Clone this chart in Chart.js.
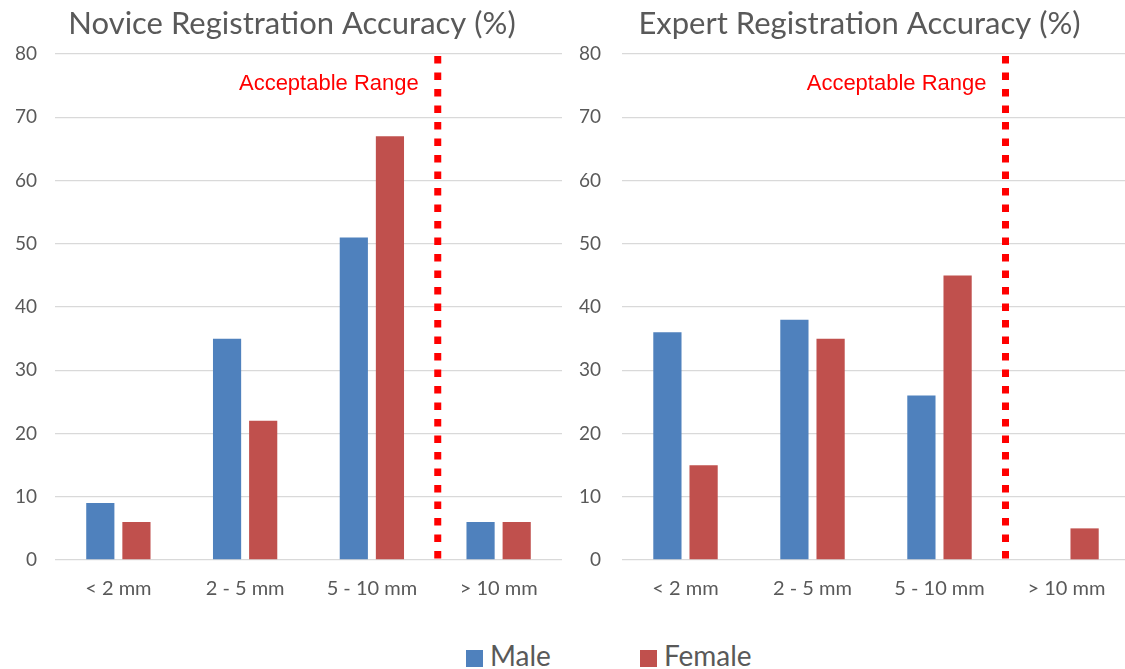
<!DOCTYPE html>
<html>
<head>
<meta charset="utf-8">
<script src="https://cdn.jsdelivr.net/npm/chart.js@4.4.1/dist/chart.umd.min.js"></script>
<style>
  body { margin: 0; background: #fff; width: 1125px; height: 669px; overflow: hidden; position: relative; }
  .box { position: absolute; top: 0; height: 620px; }
  #left { left: 0; width: 562px; }
  #right { left: 562px; width: 568px; }
  #legend { position: absolute; top: 637px; left: 466px; display: flex; gap: 89px;
            font-family: Lato, sans-serif; font-size: 28px; color: #595959; line-height: 36px; }
  #legend span.sw { display: inline-block; width: 17px; height: 17px; margin-right: 7px; vertical-align: -1px; }
</style>
</head>
<body>
<div class="box" id="left"><canvas id="novice"></canvas></div>
<div class="box" id="right"><canvas id="expert"></canvas></div>
<div id="legend"></div>
<script>
// categories and series
const categories = ["< 2 mm", "2 - 5 mm", "5 - 10 mm", "> 10 mm"];
const noviceMale = [9, 35, 51, 6];
const noviceFemale = [6, 22, 67, 6];
const expertMale = [36, 38, 26, 0];
const expertFemale = [15, 35, 45, 5];
const seriesNames = ["Male", "Female"];
const seriesColors = ["#4F81BD", "#C0504D"];
const markerLabel = "Acceptable Range";

const textColor = "#595959";

// red dotted line between 5-10 mm and > 10 mm, with its label
const rangeLine = {
    id: "rangeLine",
    afterDatasetsDraw(chart) {
        const { ctx, chartArea, scales } = chart;
        const x = (scales.x.getPixelForValue(2) + scales.x.getPixelForValue(3)) / 2 + 2.5;
        ctx.save();
        ctx.strokeStyle = "#FF0000";
        ctx.lineWidth = 7;
        ctx.setLineDash([7.5, 9]);
        ctx.beginPath();
        ctx.moveTo(x, chartArea.top + 2);
        ctx.lineTo(x, chartArea.bottom);
        ctx.stroke();
        ctx.setLineDash([]);
        ctx.fillStyle = "#FF0000";
        ctx.font = "22px 'Liberation Sans', Arial, sans-serif";
        ctx.textAlign = "right";
        ctx.textBaseline = "middle";
        ctx.fillText(markerLabel, x - 19, scales.y.getPixelForValue(75.3));
        ctx.restore();
    }
};

// chart title, sitting a little left of the plot centre like the original
const sideTitle = {
    id: "sideTitle",
    afterDraw(chart, args, opts) {
        const { ctx, chartArea } = chart;
        ctx.save();
        ctx.fillStyle = textColor;
        ctx.font = "31px Lato";
        ctx.textAlign = "center";
        ctx.textBaseline = "middle";
        ctx.fillText(opts.text, (chartArea.left + chartArea.right) / 2 - 16.5, 23.5);
        ctx.restore();
    }
};

function makeChart(id, title, male, female, yWidth, tickPad) {
    return new Chart(document.getElementById(id), {
        type: "bar",
        data: {
            labels: categories,
            datasets: [
                { label: seriesNames[0], data: male, backgroundColor: seriesColors[0] },
                { label: seriesNames[1], data: female, backgroundColor: seriesColors[1] }
            ]
        },
        options: {
            responsive: true,
            maintainAspectRatio: false,
            animation: false,
            categoryPercentage: 0.57,
            barPercentage: 0.78,
            layout: { padding: { left: 0, right: 0, top: 54, bottom: 0 } },
            plugins: {
                legend: { display: false },
                tooltip: { enabled: false },
                title: { display: false },
                sideTitle: { text: title }
            },
            scales: {
                x: {
                    grid: { display: false, drawTicks: false },
                    border: { display: false },
                    ticks: { color: textColor, font: { family: "Lato", size: 20 }, padding: 17 },
                    afterFit(scale) { scale.height = 60; }
                },
                y: {
                    min: 0,
                    max: 80,
                    ticks: { stepSize: 10, color: textColor, font: { family: "Lato", size: 19 }, padding: tickPad },
                    grid: { color: "#D9D9D9", lineWidth: 1.3, drawTicks: false },
                    border: { display: false },
                    afterFit(scale) { scale.width = yWidth; }
                }
            }
        },
        plugins: [rangeLine, sideTitle]
    });
}

makeChart("novice", "Novice Registration Accuracy (%)", noviceMale, noviceFemale, 55, 18);
makeChart("expert", "Expert Registration Accuracy (%)", expertMale, expertFemale, 60, 21);

// shared legend
const legend = document.getElementById("legend");
seriesNames.forEach((name, i) => {
    const item = document.createElement("div");
    item.innerHTML = '<span class="sw" style="background:' + seriesColors[i] + '"></span>' + name;
    legend.appendChild(item);
});
</script>
</body>
</html>
